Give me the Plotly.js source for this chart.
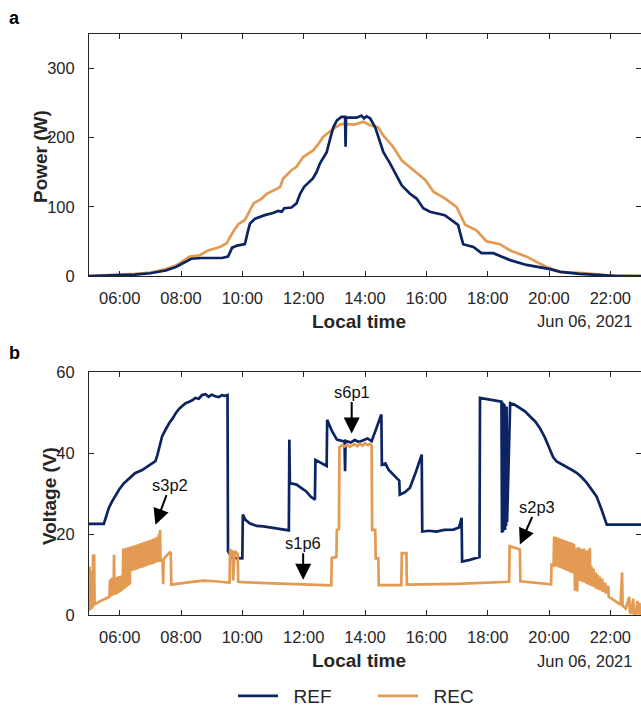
<!DOCTYPE html>
<html>
<head>
<meta charset="utf-8">
<script src="https://cdn.plot.ly/plotly-3.0.1.min.js"></script>
<style>html,body{margin:0;padding:0;background:#fff;}#chart{width:641px;height:707px;}</style>
</head>
<body>
<div id="chart"></div>
<script>
// ---------- DATA ----------
const day = "2021-06-06";
const xTickVals = ["06:00","08:00","10:00","12:00","14:00","16:00","18:00","20:00","22:00"];
const powerTicks = [0, 100, 200, 300];
const voltageTicks = [0, 20, 40, 60];

// Power (W), panel a
const powerRef = [
 ["05:00",0],["05:30",0.5],["06:00",1],["06:30",2],["07:00",4],["07:30",8],["07:50",13],["08:00",17],
 ["08:10",21],["08:20",25],["08:40",26],["09:00",26],["09:20",26],["09:32",28],["09:40",41],["09:50",44],
 ["10:05",46],["10:10",62],["10:15",76],["10:25",83],["10:44",88],["11:00",91],["11:10",94],["11:17",93],
 ["11:22",98],["11:36",99],["11:46",105],["11:53",119],["12:01",129],["12:18",141],["12:25",150],["12:32",163],
 ["12:45",179],["12:52",199],["12:58",215],["13:05",225],["13:14",230],["13:21",230],["13:22",187],["13:23",229],
 ["13:31",229],["13:44",229],["13:53",232],["13:58",228],["14:03",231],["14:10",228],["14:20",215],["14:29",196],
 ["14:36",179],["14:49",163],["15:02",146],["15:12",131],["15:28",119],["15:41",112],["15:54",98],["16:07",93],
 ["16:36",88],["17:02",74],["17:12",46],["17:32",42],["17:48",33],["18:11",33],["18:44",23],["19:16",16],
 ["20:02",10],["20:22",6],["21:00",3],["21:46",1],["22:15",0],["23:00",0]
];
const powerRec = [
 ["05:00",0],["06:00",1.5],["06:30",3],["07:00",5],["07:30",10],["07:50",15],["08:00",20],["08:17",28],
 ["08:37",30],["08:53",37],["09:16",42],["09:29",47],["09:42",64],["09:52",75],["10:05",81],["10:22",105],
 ["10:38",112],["10:48",119],["11:10",127],["11:14",129],["11:20",141],["11:36",153],["11:46",158],["11:59",172],
 ["12:19",182],["12:29",191],["12:38",201],["12:58",213],["13:11",219],["13:17",220],["13:37",219],["13:44",220],
 ["13:57",223],["14:10",218],["14:26",215],["14:36",203],["14:55",187],["15:12",167],["15:35",153],["15:58",139],
 ["16:14",122],["16:37",112],["16:59",100],["17:16",74],["17:38",66],["17:58",50],["18:24",46],["18:44",37],
 ["19:16",28],["19:55",13],["20:22",6],["21:14",4],["21:59",0.5],["23:00",0]
];

// Voltage (V), panel b
const voltageRef = [
 ["05:00",22.5],["05:29",22.5],["05:34",24.5],["05:39",26.5],["05:45",28],["05:52",29.5],["05:59",31],["06:08",32.5],
 ["06:18",33.6],["06:30",35],["06:44",35.8],["06:55",36.8],["07:04",37.4],["07:10",38],["07:14",39.6],["07:19",42],
 ["07:23",44.1],["07:30",45.8],["07:37",47.4],["07:44",48.6],["07:50",49.9],["07:57",51],["08:03",51.6],["08:09",52.3],
 ["08:15",52.6],["08:22",53],["08:28",53.6],["08:35",53.4],["08:41",54.3],["08:48",54.5],["08:54",53.9],["09:00",54.4],
 ["09:07",54],["09:14",53.8],["09:20",54.3],["09:26",54.1],["09:31",54.3],["09:32",15.7],["09:40",14.1],["09:58",13.9],
 ["10:00",14],["10:01",24.8],["10:06",23.5],["10:15",22.6],["10:28",22],["10:41",21.9],["11:00",21.5],["11:15",21.3],
 ["11:26",21.1],["11:31",20.9],["11:32",43.3],["11:33",32.6],["11:46",32.2],["12:05",30.5],["12:14",29.2],["12:22",28.5],
 ["12:23",38.3],["12:30",37.8],["12:42",37.1],["12:45",36.8],["12:46",48.2],["12:55",45.5],["13:05",43.3],["13:12",43],
 ["13:20",42.8],["13:21",35.5],["13:22",43],["13:32",42.6],["13:40",43.2],["13:48",42.7],["13:57",43.1],["14:05",43.6],
 ["14:13",42.9],["14:23",46.6],["14:32",49.5],["14:33",37.1],["14:40",37.4],["14:46",35.9],["14:52",35.2],["15:02",33.8],
 ["15:07",33.2],["15:08",29.7],["15:18",30.3],["15:28",31.4],["15:40",35.5],["15:51",39.6],["15:52",20.6],["16:05",20.8],
 ["16:20",20.6],["16:35",21],["16:53",21.1],["17:04",21.6],["17:09",24],["17:10",13.2],["17:25",13.6],["17:38",14.1],
 ["17:44",14.3],["17:45",53.6],["17:55",53.4],["18:04",53.2],["18:15",53],["18:27",52.7],["18:28",20.3],["18:29",52.5],
 ["18:30",20.5],["18:31",52.3],["18:32",21],["18:33",52],["18:34",21],["18:35",51],["18:36",22],["18:37",51.5],
 ["18:38",23],["18:44",52.3],["18:53",51.9],["19:03",51.1],["19:13",50.3],["19:23",49],["19:33",47.8],["19:42",46.2],
 ["19:52",43.8],["20:02",40.8],["20:08",39],["20:15",37.9],["20:25",37.2],["20:35",36.7],["20:45",35.8],["20:54",35.1],
 ["21:04",34],["21:14",32.6],["21:24",31],["21:33",29.3],["21:43",26],["21:53",22.3],["23:00",22.3]
];
const voltageRec = [
 ["05:00",1],["05:01",12],["05:02",1.3],["05:03",11],["05:04",1.6],["05:07",2],["05:08",14.9],["05:09",2.3],
 ["05:10",15],["05:11",2.6],["05:20",3.3],["05:30",3.9],["05:40",4.5],
 ["05:41",8.6],["05:42",4.6],["05:43",9],["05:44",4.7],["05:45",9.1],["05:46",4.8],["05:47",9.2],["05:48",4.9],
 ["05:49",14.9],["05:50",5],["05:51",9.3],["05:52",5.1],["05:53",9.4],["05:54",5.2],["05:55",9.4],["05:56",5.3],
 ["05:57",9.5],["05:58",5.5],["05:59",9.6],["06:00",5.6],["06:01",9.6],["06:02",5.8],["06:03",9.7],["06:04",6],
 ["06:05",9.8],["06:06",6.2],
 ["06:07",16.4],["06:08",6.4],["06:09",16.5],["06:10",6.6],["06:11",16.3],["06:12",6.8],["06:13",16.6],["06:14",7],
 ["06:15",16.5],["06:16",7.2],["06:17",16.7],["06:18",7.4],["06:19",16.6],["06:20",7.6],["06:21",16.8],["06:22",10.8],
 ["06:23",16.9],["06:24",10.9],["06:25",17],["06:26",11],["06:27",17.1],["06:28",11],["06:29",17],["06:30",11.1],
 ["06:31",17.3],["06:32",11.2],["06:33",17.2],["06:34",11.3],["06:35",17.4],["06:36",11.4],["06:37",17.5],["06:38",11.5],
 ["06:39",17.4],["06:40",11.6],["06:41",17.7],["06:42",11.6],["06:43",17.8],["06:44",11.7],["06:45",17.7],["06:46",11.8],
 ["06:47",18],["06:48",11.9],["06:49",18.1],["06:50",12],["06:51",17.9],["06:52",12.1],["06:53",18.2],["06:54",12.2],
 ["06:55",18.3],["06:56",12.3],["06:57",18.2],["06:58",12.4],["06:59",18.5],["07:00",12.5],["07:01",18.6],["07:02",12.5],
 ["07:03",18.5],["07:04",12.6],["07:05",18.8],["07:06",12.7],["07:07",18.9],["07:08",12.8],["07:09",18.8],["07:10",12.9],
 ["07:11",19.1],["07:12",13],["07:13",19.2],["07:14",13.1],["07:15",19.4],["07:16",13.1],["07:17",20.1],["07:18",13.2],
 ["07:19",21],["07:20",13.3],["07:24",13.7],["07:25",7.6],["07:26",13.9],["07:38",15.5],["07:40",15.3],["07:41",7.5],
 ["07:50",7.7],["08:10",8],["08:30",8.3],["08:45",8.5],["09:00",8.4],["09:20",8.1],["09:35",8],["09:36",16.1],
 ["09:41",15.6],["09:42",8.5],["09:45",15.8],["09:51",15],["09:52",8.2],["10:00",8.1],["10:30",7.9],["11:00",7.8],
 ["11:30",7.7],["12:00",7.6],["12:30",7.4],["12:54",7.3],["12:55",14.1],["13:04",14.3],["13:05",21],["13:09",21.2],
 ["13:10",41.5],["13:15",41.9],["13:20",41.6],["13:25",42.1],["13:30",41.5],["13:35",41.9],["13:40",42.2],["13:45",41.7],
 ["13:50",42.3],["13:55",41.8],["14:00",42.4],["14:05",42],["14:10",42.2],["14:13",41.8],["14:14",21],["14:20",21],
 ["14:21",14],["14:26",14],["14:27",7.4],["14:45",7.4],["15:11",7.4],["15:12",15.3],["15:21",15.3],["15:22",7.5],
 ["16:00",7.5],["16:30",7.6],["17:00",7.7],["17:30",7.8],["18:00",8],["18:42",8.2],["18:43",17],["18:55",16.6],
 ["19:03",16.2],["19:04",8.3],["19:30",8],["19:58",7.7],["20:04",7.6],["20:05",12.4],["20:09",12.2],
 ["20:10",19.4],["20:11",12.2],["20:12",19.2],["20:13",12.1],["20:14",19.3],["20:15",12],["20:16",19],["20:17",11.9],
 ["20:18",19.1],["20:19",11.8],["20:20",18.8],["20:21",11.7],["20:22",18.9],["20:23",11.6],["20:24",18.6],["20:25",11.5],
 ["20:26",18.7],["20:27",11.4],["20:28",18.4],["20:29",11.3],["20:30",18.5],["20:31",11.2],["20:32",18.2],["20:33",11.1],
 ["20:34",18.3],["20:35",11],["20:36",18],["20:37",10.9],["20:38",18.1],["20:39",10.8],["20:40",17.9],["20:41",10.6],
 ["20:42",18],["20:43",10.5],["20:44",17.8],["20:45",10.4],["20:46",17.7],["20:47",10.3],["20:49",17.5],["20:50",10.1],
 ["20:51",6],["20:52",10],["20:53",16.5],["20:54",9.8],["20:55",5.8],["20:56",9.7],["20:57",16.8],["20:58",9.5],
 ["21:00",16.5],["21:01",8.4],["21:03",16.4],["21:04",8.3],["21:06",16.2],["21:07",8.1],["21:09",16.4],["21:10",8],
 ["21:12",15.8],["21:13",7.8],["21:15",16],["21:16",7.6],["21:18",15.5],["21:19",7.4],["21:20",16.6],["21:21",7.3],
 ["21:23",12],["21:24",7.1],["21:27",11.5],["21:28",6.9],["21:31",10.5],["21:32",6.5],["21:35",10],["21:36",6.3],
 ["21:39",9.5],["21:40",6.1],["21:44",9],["21:45",5.7],["21:50",8],["21:51",5.3],["21:56",7.2],["21:57",4.5],
 ["22:00",4.2],["22:10",3.4],["22:20",2.5],["22:23",10.5],["22:24",2.3],["22:30",1.6],["22:37",4.5],["22:38",1],
 ["22:40",0.3],["22:45",4],["22:46",0.2],["22:50",0.2],["22:53",3.5],["22:54",0.2],["22:57",3],["22:58",0.2],["23:00",0.2]
];

// Annotated strings: [label, time of arrow tip, value at arrow tip, text offset x, text offset y]
const markers = [
 ["s3p2","07:10",22.3,15,-40],
 ["s1p6","11:59",8.7,0,-37],
 ["s6p1","13:34",44.8,0,-42],
 ["s2p3","19:03",17.4,17,-38]
];

// ---------- BUILD ----------
const T = s => day + " " + s;
const xs = arr => arr.map(p => T(p[0]));
const ys = arr => arr.map(p => p[1]);
const NAVY = "#0c2461", ORANGE = "#e39a52", INK = "#262626";
const FONT = "Liberation Sans, Arial, sans-serif";

const traces = [
 {x: xs(powerRec), y: ys(powerRec), xaxis:"x", yaxis:"y", mode:"lines", name:"REC", legendgroup:"REC", showlegend:false,
  line:{color:ORANGE, width:2.7}},
 {x: xs(powerRef), y: ys(powerRef), xaxis:"x", yaxis:"y", mode:"lines", name:"REF", legendgroup:"REF", showlegend:false,
  line:{color:NAVY, width:2.7}},
 {x: xs(voltageRef), y: ys(voltageRef), xaxis:"x2", yaxis:"y2", mode:"lines", name:"&nbsp;&nbsp;REF", legendgroup:"REF", legendrank:1,
  line:{color:NAVY, width:2.7}},
 {x: xs(voltageRec), y: ys(voltageRec), xaxis:"x2", yaxis:"y2", mode:"lines", name:"&nbsp;&nbsp;REC", legendgroup:"REC", legendrank:2,
  line:{color:ORANGE, width:2.7}}
];

const xCommon = {
 type:"date", range:[T("05:00"), T("23:00")], tickmode:"array", tickvals:xTickVals.map(T), ticktext:xTickVals,
 showline:true, mirror:"ticks", linecolor:INK, linewidth:1, ticks:"inside", ticklen:5, tickcolor:INK,
 showgrid:false, zeroline:false, tickfont:{family:FONT, size:16.5, color:INK}, ticklabelstandoff:7, fixedrange:true
};
const yCommon = {
 showline:true, mirror:"ticks", linecolor:INK, linewidth:1, ticks:"inside", ticklen:5, tickcolor:INK,
 showgrid:false, zeroline:false, tickfont:{family:FONT, size:16.5, color:INK}, ticklabelstandoff:10, tickmode:"array"
};

const W = 552, H = 581, L = 89, TOP = 34;
const px = v => (v - L) / W;
const py = v => (TOP + H - v) / H;
const txt = (text, x, y, opts) => Object.assign({text, xref:"paper", yref:"paper", x:px(x), y:py(y), showarrow:false,
  xanchor:"center", yanchor:"middle", font:{family:FONT, size:16.5, color:INK}}, opts || {});

const annotations = [
 txt("<b>a</b>", 14, 18, {font:{family:FONT, size:18, color:"#000"}}),
 txt("<b>b</b>", 14.5, 353, {font:{family:FONT, size:18, color:"#000"}}),
 txt("<b>Local time</b>", 359, 321, {font:{family:FONT, size:19, color:INK}}),
 txt("<b>Local time</b>", 359, 660.5, {font:{family:FONT, size:19, color:INK}}),
 txt("Jun 06, 2021", 634, 321, {xanchor:"right"}),
 txt("Jun 06, 2021", 634, 660.5, {xanchor:"right"}),
 txt("<b>Power (W)</b>", 40, 157, {textangle:-90, font:{family:FONT, size:19, color:INK}}),
 txt("<b>Voltage (V)</b>", 49, 496, {textangle:-90, font:{family:FONT, size:19, color:INK}})
];
markers.forEach(m => annotations.push({
 text:m[0], x:T(m[1]), y:m[2], xref:"x2", yref:"y2", ax:m[3], ay:m[4], axref:"pixel", ayref:"pixel",
 showarrow:true, arrowhead:2, arrowsize:1.6, arrowwidth:2, arrowcolor:"#000", standoff:0, startstandoff:0,
 font:{family:FONT, size:16.5, color:"#111"}
}));

const layout = {
 width:641, height:707, margin:{l:L, r:0, t:TOP, b:707-TOP-H, autoexpand:false},
 paper_bgcolor:"#fff", plot_bgcolor:"#fff", font:{family:FONT, color:INK},
 xaxis: Object.assign({}, xCommon, {anchor:"y"}),
 yaxis: Object.assign({}, yCommon, {domain:[py(276), 1], range:[0,350], tickvals:powerTicks, anchor:"x"}),
 xaxis2: Object.assign({}, xCommon, {anchor:"y2"}),
 yaxis2: Object.assign({}, yCommon, {domain:[0, py(372)], range:[0,60], tickvals:voltageTicks, anchor:"x2"}),
 showlegend:true,
 legend:{orientation:"h", x:px(233), xanchor:"left", y:py(696), yanchor:"middle",
   font:{family:FONT, size:19, color:INK}, bgcolor:"rgba(0,0,0,0)", itemwidth:40, entrywidth:85, traceorder:"normal"},
 annotations
};

Plotly.newPlot("chart", traces, layout, {staticPlot:true, displayModeBar:false});
</script>
</body>
</html>
